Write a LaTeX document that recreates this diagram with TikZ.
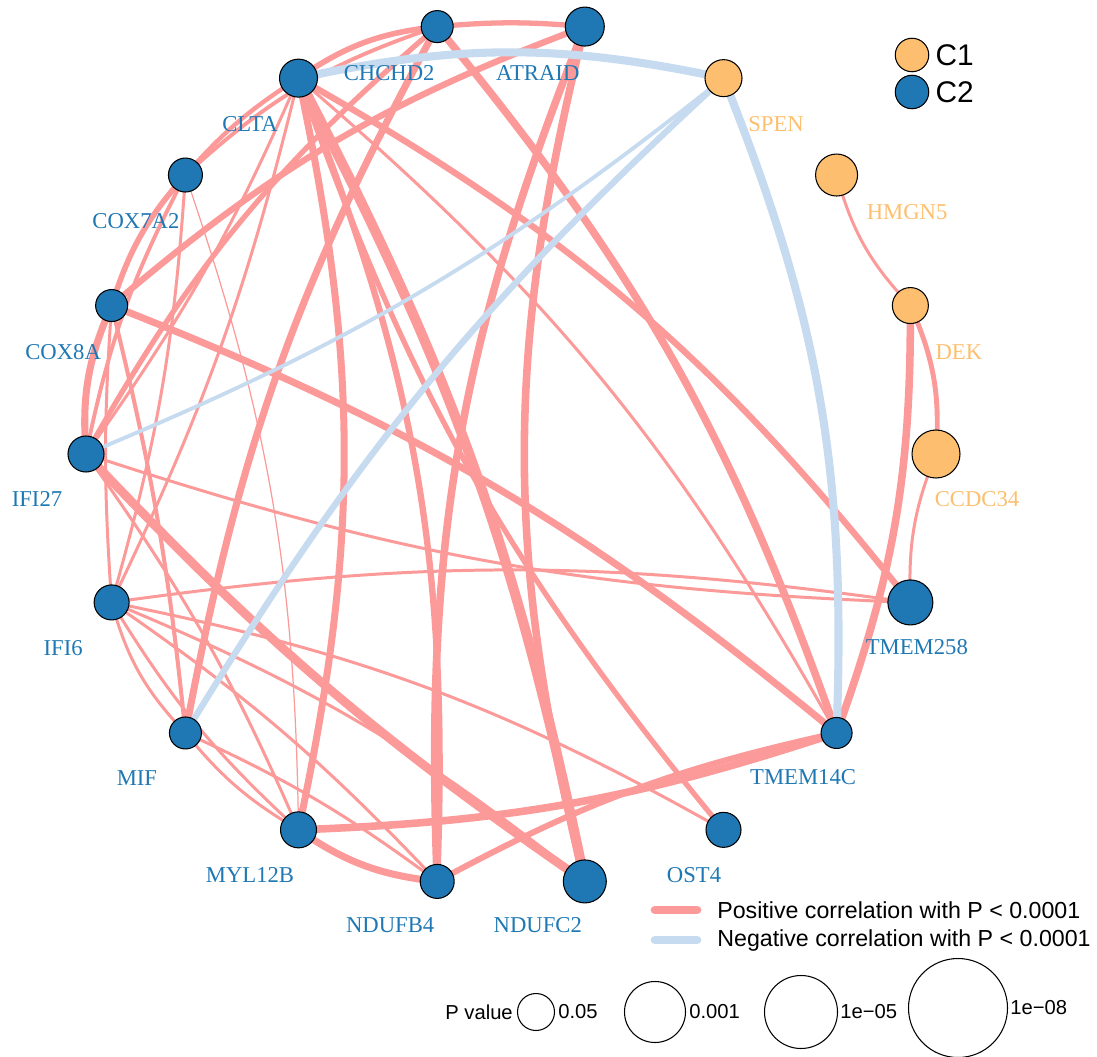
\documentclass[tikz,border=0pt]{standalone}
\usepackage{fontspec}
\setmainfont{Liberation Serif}
\setsansfont{Liberation Sans}
\usetikzlibrary{positioning}

\definecolor{posred}{HTML}{FB9A99}
\definecolor{negblue}{HTML}{C6DBEF}
\definecolor{clusterone}{HTML}{FDBF6F}
\definecolor{clustertwo}{HTML}{1F78B4}

\pgfdeclarelayer{edgelayer}
\pgfsetlayers{edgelayer,main}

\begin{document}
\begin{tikzpicture}
	[gene/.style={circle, draw=black, line width=0.6pt, inner sep=0pt},
	geneone/.style={gene, fill=clusterone},
	genetwo/.style={gene, fill=clustertwo},
	genename/.style={on grid, inner sep=0pt, font=\fontsize{12.9}{14}\selectfont},
	nameone/.style={genename, text=clusterone},
	nametwo/.style={genename, text=clustertwo},
	poscor/.style={draw=posred},
	negcor/.style={draw=negblue},
	legtext/.style={inner sep=0pt, font=\sffamily\fontsize{13.2}{15}\selectfont},
	ptext/.style={inner sep=0pt, font=\sffamily\fontsize{11.5}{13}\selectfont},
	pvalue/.style={circle, draw=black, line width=0.6pt, fill=white, inner sep=0pt}]

\useasboundingbox (0,0) rectangle (21.94,-21.14);

% genes on the circle, counter-clockwise from the right
\begin{scope}[shift={(10.22,-9.08)}]
\node [geneone, minimum size=0.96cm] (CCDC34) at (0:8.5cm and 8.68cm) {};
\node [geneone, minimum size=0.72cm] (DEK) at (20:8.5cm and 8.68cm) {};
\node [geneone, minimum size=0.84cm] (HMGN5) at (40:8.5cm and 8.68cm) {};
\node [geneone, minimum size=0.74cm] (SPEN) at (60:8.5cm and 8.68cm) {};
\node [genetwo, minimum size=0.78cm] (ATRAID) at (80:8.5cm and 8.68cm) {};
\node [genetwo, minimum size=0.64cm] (CHCHD2) at (100:8.5cm and 8.68cm) {};
\node [genetwo, minimum size=0.76cm] (CLTA) at (120:8.5cm and 8.68cm) {};
\node [genetwo, minimum size=0.68cm] (COX7A2) at (140:8.5cm and 8.68cm) {};
\node [genetwo, minimum size=0.64cm] (COX8A) at (160:8.5cm and 8.68cm) {};
\node [genetwo, minimum size=0.72cm] (IFI27) at (180:8.5cm and 8.68cm) {};
\node [genetwo, minimum size=0.70cm] (IFI6) at (200:8.5cm and 8.68cm) {};
\node [genetwo, minimum size=0.64cm] (MIF) at (220:8.5cm and 8.68cm) {};
\node [genetwo, minimum size=0.72cm] (MYL12B) at (240:8.5cm and 8.68cm) {};
\node [genetwo, minimum size=0.68cm] (NDUFB4) at (260:8.5cm and 8.68cm) {};
\node [genetwo, minimum size=0.86cm] (NDUFC2) at (280:8.5cm and 8.68cm) {};
\node [genetwo, minimum size=0.70cm] (OST4) at (300:8.5cm and 8.68cm) {};
\node [genetwo, minimum size=0.62cm] (TMEM14C) at (320:8.5cm and 8.68cm) {};
\node [genetwo, minimum size=0.90cm] (TMEM258) at (340:8.5cm and 8.68cm) {};
\end{scope}

% gene names
\node [nameone, below right=0.90cm and 0.82cm of CCDC34] (CCDC34name) {CCDC34};
\node [nameone, below right=0.93cm and 0.97cm of DEK] (DEKname) {DEK};
\node [nameone, below right=0.74cm and 1.41cm of HMGN5] (HMGN5name) {HMGN5};
\node [nameone, below right=0.92cm and 1.05cm of SPEN] (SPENname) {SPEN};
\node [nametwo, below left=0.93cm and 0.94cm of ATRAID] (ATRAIDname) {ATRAID};
\node [nametwo, below left=0.93cm and 0.96cm of CHCHD2] (CHCHD2name) {CHCHD2};
\node [nametwo, below left=0.92cm and 0.97cm of CLTA] (CLTAname) {CLTA};
\node [nametwo, below left=0.92cm and 0.99cm of COX7A2] (COX7A2name) {COX7A2};
\node [nametwo, below left=0.93cm and 0.97cm of COX8A] (COX8Aname) {COX8A};
\node [nametwo, below left=0.90cm and 0.98cm of IFI27] (IFI27name) {IFI27};
\node [nametwo, below left=0.91cm and 0.97cm of IFI6] (IFI6name) {IFI6};
\node [nametwo, below left=0.90cm and 0.97cm of MIF] (MIFname) {MIF};
\node [nametwo, below left=0.90cm and 0.97cm of MYL12B] (MYL12Bname) {MYL12B};
\node [nametwo, below left=0.87cm and 0.94cm of NDUFB4] (NDUFB4name) {NDUFB4};
\node [nametwo, below left=0.87cm and 0.94cm of NDUFC2] (NDUFC2name) {NDUFC2};
\node [nametwo, below left=0.90cm and 0.59cm of OST4] (OST4name) {OST4};
\node [nametwo, below left=0.88cm and 0.67cm of TMEM14C] (TMEM14Cname) {TMEM14C};
\node [nametwo, below right=0.89cm and 0.13cm of TMEM258] (TMEM258name) {TMEM258};

\begin{pgfonlayer}{edgelayer}
% positive correlations
\draw [poscor, line width=2.8pt] (CCDC34.center) to [bend right=14] (DEK.center);
\draw [poscor, line width=1.7pt] (CCDC34.center) to [bend right=12] (TMEM258.center);
\draw [poscor, line width=1.7pt] (DEK.center) to [bend left=14] (HMGN5.center);
\draw [poscor, line width=4.3pt] (DEK.center) to [bend left=10] (TMEM14C.center);
\draw [poscor, line width=3pt] (ATRAID.center) to [bend right=5] (CHCHD2.center);
\draw [poscor, line width=3.6pt] (ATRAID.center) to [bend right=10] (COX8A.center);
\draw [poscor, line width=4.3pt] (ATRAID.center) to [bend right=12] (NDUFB4.center);
\draw [poscor, line width=4.3pt] (ATRAID.center) to [bend right=14] (NDUFC2.center);
\draw [poscor, line width=3.2pt] (CHCHD2.center) to [bend right=14] (CLTA.center);
\draw [poscor, line width=2.2pt] (CHCHD2.center) to [bend right=12] (COX7A2.center);
\draw [poscor, line width=3pt] (CHCHD2.center) to [bend right=10] (IFI27.center);
\draw [poscor, line width=4pt] (CHCHD2.center) to [bend right=9] (MIF.center);
\draw [poscor, line width=4.3pt] (CHCHD2.center) to [bend left=10] (TMEM14C.center);
\draw [poscor, line width=2.5pt] (CLTA.center) to [bend right=8] (COX7A2.center);
\draw [poscor, line width=1.7pt] (CLTA.center) to [bend left=6] (IFI27.center);
\draw [poscor, line width=1.7pt] (CLTA.center) to [bend left=6] (IFI6.center);
\draw [poscor, line width=4pt] (CLTA.center) to [bend left=12] (MYL12B.center);
\draw [poscor, line width=3.6pt] (CLTA.center) to [bend left=12] (NDUFB4.center);
\draw [poscor, line width=5.7pt] (CLTA.center) to [bend left=8] (NDUFC2.center);
\draw [poscor, line width=3pt] (CLTA.center) to [bend right=10] (OST4.center);
\draw [poscor, line width=1.7pt] (CLTA.center) to [bend left=10] (TMEM14C.center);
\draw [poscor, line width=3.6pt] (CLTA.center) to [bend left=11] (TMEM258.center);
\draw [poscor, line width=3.2pt] (COX7A2.center) to [bend right=12] (COX8A.center);
\draw [poscor, line width=2.2pt] (COX7A2.center) to [bend right=8] (IFI27.center);
\draw [poscor, line width=1.7pt] (COX7A2.center) to [bend left=6] (IFI6.center);
\draw [poscor, line width=0.7pt] (COX7A2.center) to [bend left=9] (MYL12B.center);
\draw [poscor, line width=4pt] (COX8A.center) to [bend right=14] (IFI27.center);
\draw [poscor, line width=1.7pt] (COX8A.center) to [bend right=4] (IFI6.center);
\draw [poscor, line width=2.3pt] (COX8A.center) to [bend left=4] (MIF.center);
\draw [poscor, line width=4pt] (COX8A.center) to [bend left=9] (TMEM14C.center);
\draw [poscor, line width=1.7pt] (IFI27.center) to [bend left=6] (MYL12B.center);
\draw [poscor, line width=5pt] (IFI27.center) to [bend right=6] (NDUFC2.center);
\draw [poscor, line width=1.7pt] (IFI27.center) to [bend right=8] (TMEM258.center);
\draw [poscor, line width=1.7pt] (IFI6.center) to [bend right=14] (MIF.center);
\draw [poscor, line width=1.7pt] (IFI6.center) to [bend right=8] (MYL12B.center);
\draw [poscor, line width=1.7pt] (IFI6.center) to [bend left=6] (NDUFB4.center);
\draw [poscor, line width=1.7pt] (IFI6.center) to [bend left=8] (NDUFC2.center);
\draw [poscor, line width=1.7pt] (IFI6.center) to [bend left=9] (OST4.center);
\draw [poscor, line width=1.7pt] (IFI6.center) to [bend left=8] (TMEM258.center);
\draw [poscor, line width=1.7pt] (MIF.center) to [bend right=10] (MYL12B.center);
\draw [poscor, line width=1.7pt] (MIF.center) to [bend left=6] (NDUFB4.center);
\draw [poscor, line width=4pt] (MYL12B.center) to [bend right=14] (NDUFB4.center);
\draw [poscor, line width=4.3pt] (MYL12B.center) to [bend right=8] (TMEM14C.center);
\draw [poscor, line width=3.4pt] (NDUFB4.center) to [bend left=8] (TMEM14C.center);
% negative correlations
\draw [negcor, line width=4.6pt] (SPEN.center) to [bend right=12] (CLTA.center);
\draw [negcor, line width=2.2pt] (SPEN.center) to [bend left=8] (IFI27.center);
\draw [negcor, line width=3.6pt] (SPEN.center) to [bend right=8] (MIF.center);
\draw [negcor, line width=4.6pt] (SPEN.center) to [bend left=12] (TMEM14C.center);
\end{pgfonlayer}

% cluster legend
\node [geneone, minimum size=0.67cm] (legone) at (18.24,-1.10) {};
\node [genetwo, minimum size=0.67cm] (legtwo) at (18.24,-1.84) {};
\node [legtext, font=\sffamily\fontsize{17}{19}\selectfont, right=0.12cm of legone] (legonetext) {C1};
\node [legtext, font=\sffamily\fontsize{17}{19}\selectfont, right=0.12cm of legtwo] (legtwotext) {C2};

% correlation legend
\coordinate (posstart) at (13.10,-18.20);
\coordinate (posend) at (13.94,-18.20);
\coordinate (negstart) at (13.10,-18.80);
\coordinate (negend) at (13.94,-18.80);
\draw [poscor, line width=5pt, line cap=round] (posstart) -- (posend);
\draw [negcor, line width=5pt, line cap=round] (negstart) -- (negend);
\node [legtext, right=0.40cm of posend] (postext) {Positive correlation with P < 0.0001};
\node [legtext, right=0.40cm of negend] (negtext) {Negative correlation with P < 0.0001};

% P value legend
\node [ptext, anchor=west] (ptitle) at (8.90,-20.24) {P value};
\node [pvalue, minimum size=0.74cm] (pone) at (10.72,-20.24) {};
\node [pvalue, minimum size=1.22cm] (ptwo) at (13.10,-20.24) {};
\node [pvalue, minimum size=1.46cm] (pthree) at (16.02,-20.24) {};
\node [pvalue, minimum size=1.98cm] (pfour) at (19.16,-20.16) {};
\node [ptext, right=0.06cm of pone] (ponetext) {0.05};
\node [ptext, right=0.06cm of ptwo] (ptwotext) {0.001};
\node [ptext, right=0.04cm of pthree] (pthreetext) {1e−05};
\node [ptext, right=0.04cm of pfour] (pfourtext) {1e−08};

\end{tikzpicture}
\end{document}
